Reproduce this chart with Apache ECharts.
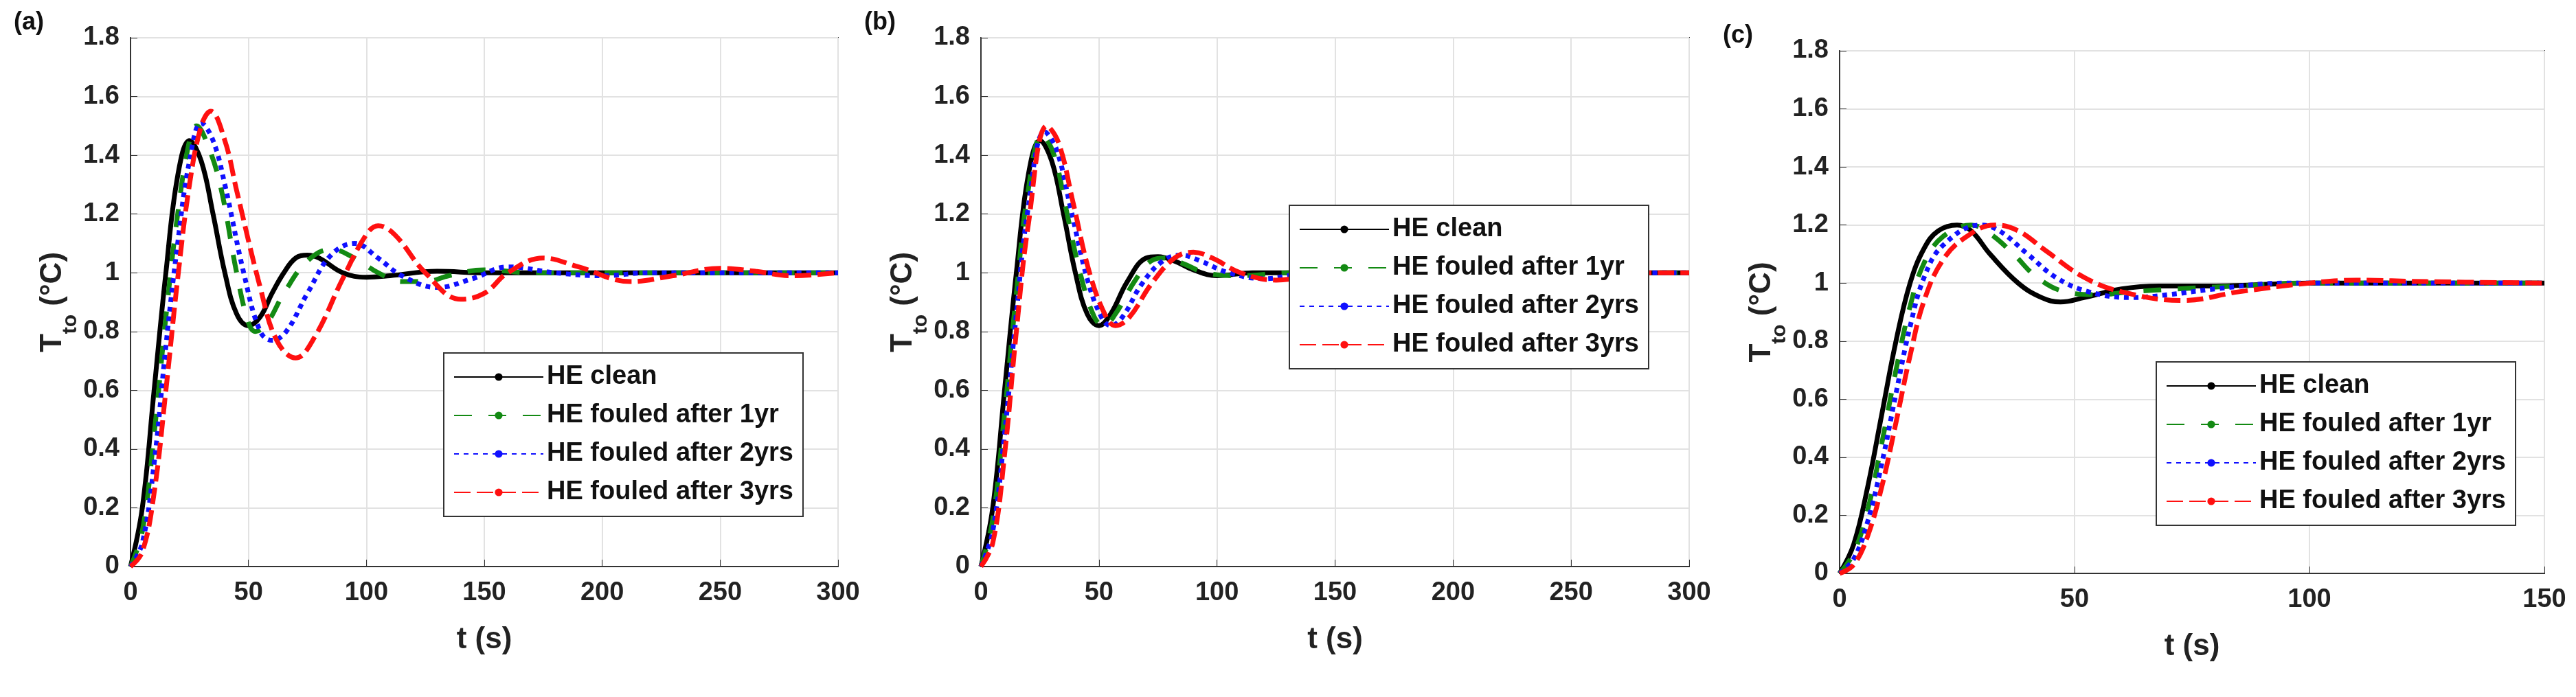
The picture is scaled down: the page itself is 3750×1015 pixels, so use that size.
<!DOCTYPE html>
<html>
<head>
<meta charset="UTF-8">
<style>html,body{margin:0;height:100%;background:#fff}#c{width:3750px;height:1015px}</style>
</head>
<body>
<div id="c"></div>
<script src="https://cdn.jsdelivr.net/npm/echarts@6/dist/echarts.min.js"></script>
<script>
var names = ['HE clean', 'HE fouled after 1yr', 'HE fouled after 2yrs', 'HE fouled after 3yrs'];
var yTicks = [0, 0.2, 0.4, 0.6, 0.8, 1, 1.2, 1.4, 1.6, 1.8];

var aClean = [[0,0],[5,0.2],[10,0.6],[15,1.0],[20,1.33],[25,1.45],[30,1.38],[35,1.2],[40,1.0],[45,0.86],[50,0.82],[55,0.85],[60,0.93],[65,1.0],[70,1.05],[75,1.06],[80,1.05],[90,1.0],[100,0.985],[110,0.99],[130,1.005],[150,1.0],[300,1.0]];
var a1yr = [[0,0],[5,0.12],[10,0.45],[15,0.85],[20,1.2],[25,1.45],[28,1.5],[32,1.45],[38,1.3],[45,1.0],[50,0.83],[53,0.8],[58,0.83],[65,0.93],[75,1.04],[85,1.08],[95,1.05],[105,1.0],[115,0.97],[125,0.97],[135,0.99],[150,1.01],[170,1.0],[300,1.0]];
var a2yr = [[0,0],[5,0.08],[10,0.35],[15,0.75],[20,1.1],[25,1.38],[30,1.51],[35,1.45],[40,1.3],[48,1.0],[55,0.8],[60,0.77],[66,0.8],[75,0.93],[85,1.06],[95,1.1],[105,1.05],[115,0.99],[130,0.95],[145,0.98],[160,1.02],[180,1.0],[200,0.99],[220,1.0],[300,1.0]];
var a3yr = [[0,0],[5,0.05],[10,0.25],[15,0.6],[20,0.98],[25,1.3],[30,1.5],[34,1.55],[40,1.45],[45,1.28],[55,0.95],[62,0.77],[70,0.71],[78,0.78],[90,0.98],[100,1.13],[105,1.16],[112,1.13],[125,1.0],[140,0.91],[150,0.93],[160,1.0],[175,1.05],[190,1.02],[212,0.97],[230,0.99],[250,1.015],[265,1.005],[280,0.99],[300,1.0]];

var bClean = [[0,0],[5,0.2],[10,0.6],[15,1.0],[20,1.33],[25,1.45],[30,1.38],[35,1.2],[40,1.0],[45,0.86],[50,0.82],[55,0.86],[62,0.97],[70,1.05],[75,1.055],[82,1.04],[90,1.01],[100,0.99],[115,1.0],[300,1.0]];
var b1yr = [[0,0],[5,0.16],[10,0.52],[15,0.93],[20,1.28],[26,1.47],[31,1.4],[36,1.22],[42,1.0],[48,0.85],[52,0.82],[57,0.86],[65,0.97],[72,1.04],[78,1.05],[86,1.03],[95,1.0],[110,0.99],[130,1.0],[300,1.0]];
var b2yr = [[0,0],[5,0.12],[10,0.45],[15,0.86],[20,1.22],[27,1.48],[32,1.42],[38,1.22],[45,0.98],[51,0.85],[55,0.82],[60,0.85],[68,0.96],[77,1.04],[85,1.06],[93,1.04],[105,1.0],[120,0.98],[140,1.0],[300,1.0]];
var b3yr = [[0,0],[5,0.08],[10,0.38],[15,0.8],[20,1.16],[28,1.5],[33,1.44],[39,1.24],[46,1.0],[53,0.85],[57,0.82],[63,0.85],[72,0.96],[82,1.05],[90,1.07],[98,1.05],[110,1.0],[125,0.975],[140,0.99],[160,1.01],[180,1.0],[300,1.0]];

var cClean = [[0,0],[3,0.1],[6,0.3],[9,0.55],[12,0.8],[15,1.0],[18,1.12],[21,1.18],[25,1.2],[28,1.18],[32,1.1],[38,1.0],[43,0.95],[47,0.935],[52,0.95],[60,0.98],[68,0.99],[80,0.99],[100,1.0],[150,1.0]];
var c1yr = [[0,0],[3,0.07],[6,0.22],[9,0.45],[12,0.7],[15,0.92],[18,1.07],[22,1.16],[28,1.2],[32,1.17],[37,1.1],[42,1.02],[48,0.97],[55,0.96],[62,0.97],[72,0.98],[85,0.99],[100,1.0],[150,1.0]];
var c2yr = [[0,0],[3,0.05],[6,0.18],[9,0.38],[12,0.62],[15,0.85],[18,1.02],[22,1.13],[30,1.2],[34,1.18],[40,1.1],[46,1.02],[53,0.97],[62,0.95],[70,0.96],[80,0.98],[95,1.0],[150,1.0]];
var c3yr = [[0,0],[3,0.03],[6,0.13],[9,0.3],[12,0.52],[15,0.75],[18,0.94],[22,1.08],[27,1.16],[33,1.2],[38,1.18],[44,1.11],[52,1.02],[60,0.97],[73,0.94],[85,0.97],[100,1.0],[110,1.01],[125,1.005],[150,1.0]];

var panels = [
  {label: '(a)', max: 300, interval: 50, data: [aClean, a1yr, a2yr, a3yr], grid: {left: 190, top: 55, width: 1030, height: 770}, legend: {left: 646, top: 514}},
  {label: '(b)', max: 300, interval: 50, data: [bClean, b1yr, b2yr, b3yr], grid: {left: 1428, top: 55, width: 1031, height: 770}, legend: {left: 1877, top: 299}},
  {label: '(c)', max: 150, interval: 50, data: [cClean, c1yr, c2yr, c3yr], grid: {left: 2678, top: 74, width: 1026, height: 761}, legend: {left: 3139, top: 527}}
];

var colors = ['#000000', '#138a13', '#1010ff', '#ff1010'];
var lineTypes = ['solid', [26, 24], [7, 7], [24, 9]];
var font = '"Liberation Sans Narrow", "Liberation Sans", Arial, sans-serif';

var option = {grid: [], xAxis: [], yAxis: [], series: [], legend: [], graphic: []};
panels.forEach(function (p, i) {
  option.grid.push(Object.assign({show: true, borderColor: '#333', borderWidth: 2}, p.grid));
  option.xAxis.push({
    type: 'value', gridIndex: i, min: 0, max: p.max, interval: p.interval,
    name: 't (s)', nameLocation: 'middle', nameGap: 85,
    nameTextStyle: {fontFamily: font, fontWeight: 'bold', fontSize: 44, color: '#222'},
    axisLine: {lineStyle: {color: '#333', width: 2}},
    axisTick: {inside: true, length: 10, lineStyle: {color: '#333'}},
    axisLabel: {fontFamily: font, fontWeight: 'bold', fontSize: 38, color: '#222', margin: 20},
    splitLine: {lineStyle: {color: '#e2e2e2', width: 2}}
  });
  option.yAxis.push({
    type: 'value', gridIndex: i, min: 0, max: 1.8, interval: 0.2,
    name: '{t|T}{s|to}{t| (°C)}', nameLocation: 'middle', nameGap: 80,
    nameTextStyle: {rich: {
      t: {fontFamily: font, fontWeight: 'bold', fontSize: 44, color: '#222'},
      s: {fontFamily: font, fontWeight: 'bold', fontSize: 30, color: '#222', verticalAlign: 'bottom', padding: [0, 0, -18, 0]}
    }},
    axisLine: {lineStyle: {color: '#333', width: 2}},
    axisTick: {inside: true, length: 10, lineStyle: {color: '#333'}},
    axisLabel: {fontFamily: font, fontWeight: 'bold', fontSize: 38, color: '#222', margin: 16,
      formatter: function (v) { return yTicks.indexOf(Math.round(v * 10) / 10) >= 0 ? String(Math.round(v * 10) / 10) : ''; }},
    splitLine: {lineStyle: {color: '#e2e2e2', width: 2}}
  });
  p.data.forEach(function (d, k) {
    option.series.push({
      type: 'line', name: names[k], xAxisIndex: i, yAxisIndex: i, data: d,
      smooth: 0.4, showSymbol: false, symbol: 'none', z: 10 + k,
      lineStyle: {color: colors[k], width: 7, type: lineTypes[k]},
      itemStyle: {color: colors[k]}
    });
  });
  option.legend.push({
    data: names, orient: 'vertical', left: p.legend.left, top: p.legend.top,
    itemWidth: 130, itemHeight: 14, itemGap: 18, padding: [16, 14, 16, 14],
    backgroundColor: '#fff', borderColor: '#333', borderWidth: 2,
    textStyle: {fontFamily: font, fontWeight: 'bold', fontSize: 38, color: '#111'},
    selectedMode: false, z: 20
  });
  option.graphic.push({
    type: 'text', left: p.grid.left - 170, top: p.grid.top - 40,
    style: {text: p.label, fontFamily: font, fontWeight: 'bold', fontSize: 36, fill: '#111'}
  });
});

var chart = echarts.init(document.getElementById('c'));
chart.setOption(option);
</script>
</body>
</html>
